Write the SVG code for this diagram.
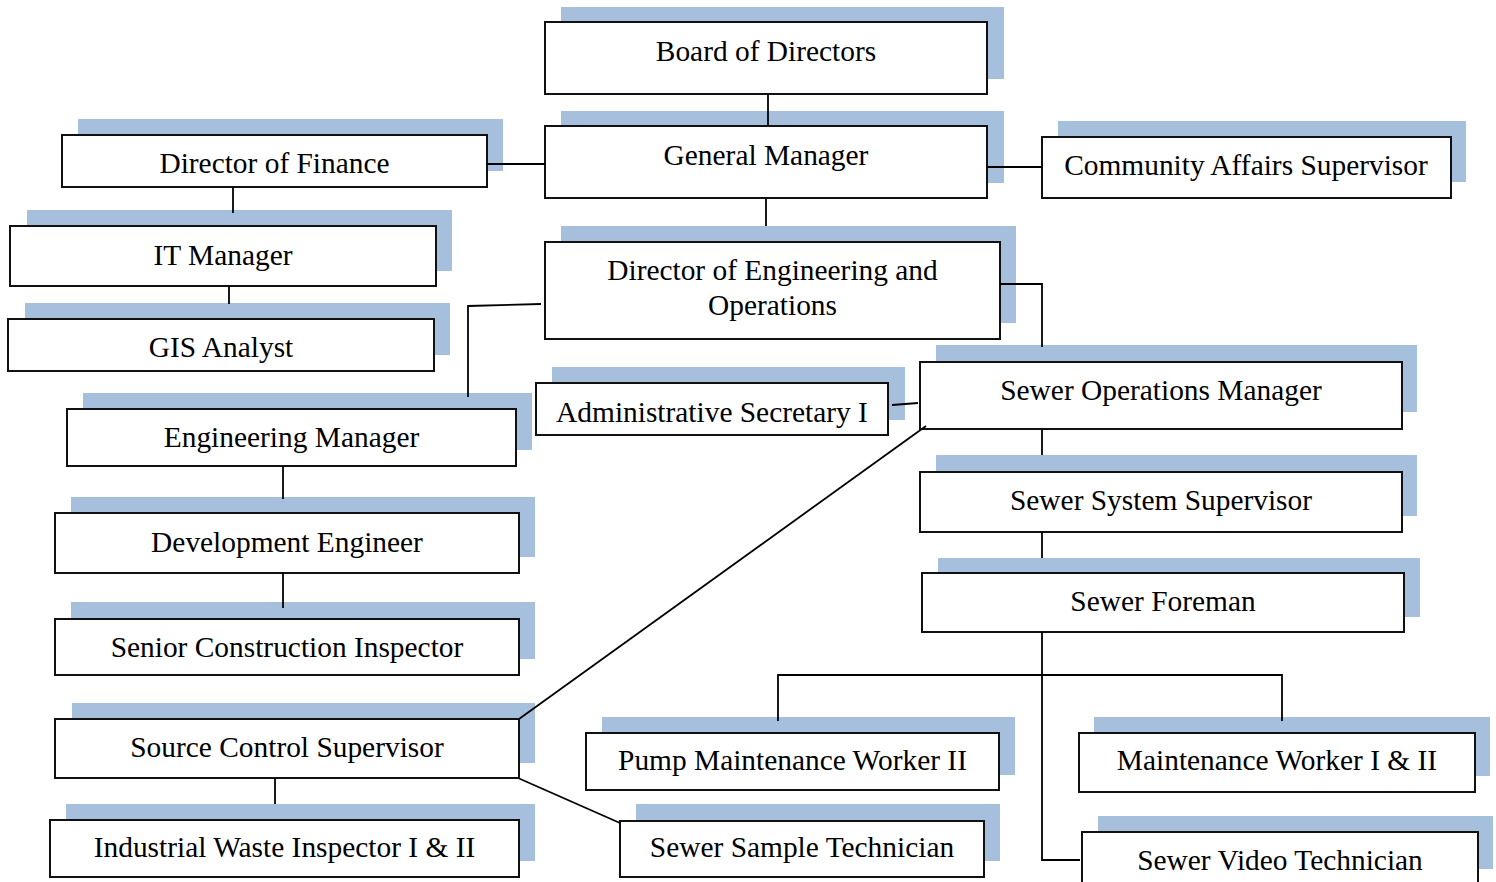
<svg xmlns="http://www.w3.org/2000/svg" width="1496" height="882" viewBox="0 0 1496 882">
<style>
.sh{fill:#a6bfdd;stroke:none}
.bx{fill:#fff;stroke:#111;stroke-width:2}
.t{font-family:"Liberation Serif","Times New Roman",serif;font-size:29.4px;fill:#000;text-anchor:middle}
.c{fill:none;stroke:#000;stroke-width:1.8}
</style>
<rect width="1496" height="882" fill="#fff"/>
<g id="board"><rect class="sh" x="561" y="7" width="443" height="72"/><rect class="bx" x="545" y="22" width="442" height="72"/><text class="t" x="766" y="61">Board of Directors</text></g>
<g id="gm"><rect class="sh" x="561" y="111" width="443" height="72"/><rect class="bx" x="545" y="126" width="442" height="72"/><text class="t" x="766" y="165">General Manager</text></g>
<g id="dof"><rect class="sh" x="78" y="119" width="425" height="52"/><rect class="bx" x="62" y="135" width="425" height="52"/><text class="t" x="274.5" y="173">Director of Finance</text></g>
<g id="cas"><rect class="sh" x="1058" y="121" width="408" height="61"/><rect class="bx" x="1042" y="137" width="409" height="61"/><text class="t" x="1246" y="175">Community Affairs Supervisor</text></g>
<g id="it"><rect class="sh" x="27" y="210" width="425" height="61"/><rect class="bx" x="10" y="226" width="426" height="60"/><text class="t" x="223" y="265">IT Manager</text></g>
<g id="gis"><rect class="sh" x="25" y="303" width="425" height="52"/><rect class="bx" x="8" y="319" width="426" height="52"/><text class="t" x="221" y="357">GIS Analyst</text></g>
<g id="deo"><rect class="sh" x="561" y="226" width="455" height="97"/><rect class="bx" x="545" y="242" width="455" height="97"/><text class="t" x="772.5" y="280">Director of Engineering and</text><text class="t" x="772.5" y="315">Operations</text></g>
<g id="admin"><rect class="sh" x="552" y="367" width="353" height="53"/><rect class="bx" x="536" y="383" width="352" height="52"/><text class="t" x="712" y="422">Administrative Secretary I</text></g>
<g id="som"><rect class="sh" x="936" y="345" width="481" height="67"/><rect class="bx" x="920" y="362" width="482" height="67"/><text class="t" x="1161" y="400">Sewer Operations Manager</text></g>
<g id="sss"><rect class="sh" x="936" y="455" width="481" height="61"/><rect class="bx" x="920" y="472" width="482" height="60"/><text class="t" x="1161" y="510">Sewer System Supervisor</text></g>
<g id="sf"><rect class="sh" x="938" y="558" width="482" height="59"/><rect class="bx" x="922" y="573" width="482" height="59"/><text class="t" x="1163" y="611">Sewer Foreman</text></g>
<g id="em"><rect class="sh" x="83" y="393" width="449" height="57"/><rect class="bx" x="67" y="409" width="449" height="57"/><text class="t" x="291.5" y="447">Engineering Manager</text></g>
<g id="de"><rect class="sh" x="71" y="497" width="464" height="60"/><rect class="bx" x="55" y="513" width="464" height="60"/><text class="t" x="287" y="552">Development Engineer</text></g>
<g id="sci"><rect class="sh" x="71" y="602" width="464" height="57"/><rect class="bx" x="55" y="619" width="464" height="56"/><text class="t" x="287" y="657">Senior Construction Inspector</text></g>
<g id="scs"><rect class="sh" x="72" y="703" width="463" height="60"/><rect class="bx" x="55" y="719" width="464" height="59"/><text class="t" x="287" y="757">Source Control Supervisor</text></g>
<g id="iwi"><rect class="sh" x="66" y="804" width="469" height="57"/><rect class="bx" x="50" y="820" width="469" height="57"/><text class="t" x="284.5" y="857">Industrial Waste Inspector I &amp; II</text></g>
<g id="sst"><rect class="sh" x="636" y="804" width="364" height="57"/><rect class="bx" x="620" y="821" width="364" height="56"/><text class="t" x="802" y="857">Sewer Sample Technician</text></g>
<g id="pmw"><rect class="sh" x="602" y="717" width="413" height="58"/><rect class="bx" x="586" y="733" width="413" height="57"/><text class="t" x="792.5" y="770">Pump Maintenance Worker II</text></g>
<g id="mw"><rect class="sh" x="1094" y="717" width="396" height="59"/><rect class="bx" x="1079" y="733" width="396" height="59"/><text class="t" x="1277" y="770">Maintenance Worker I &amp; II</text></g>
<g id="svt"><rect class="sh" x="1098" y="816" width="395" height="53"/><rect class="bx" x="1082" y="832" width="396" height="60"/><text class="t" x="1280" y="870">Sewer Video Technician</text></g>
<g id="connectors">
<path class="c" d="M768,94 V126"/>
<path class="c" d="M487,164 H545"/>
<path class="c" d="M987,167 H1042"/>
<path class="c" d="M766,199 V226"/>
<path class="c" d="M233,187 V213"/>
<path class="c" d="M229,286 V304"/>
<path class="c" d="M541,304 L468,306 V397"/>
<path class="c" d="M1000,284 H1042 V347"/>
<path class="c" d="M892,405 L918,403"/>
<path class="c" d="M926,426 L519,719"/>
<path class="c" d="M1042,429 V455"/>
<path class="c" d="M1042,532 V558"/>
<path class="c" d="M1042,632 V860 H1080"/>
<path class="c" d="M778,721 V675 H1282 V721"/>
<path class="c" d="M283,466 V499"/>
<path class="c" d="M283,573 V608"/>
<path class="c" d="M275,778 V804"/>
<path class="c" d="M518,778 L620,823"/>
</g>
</svg>
